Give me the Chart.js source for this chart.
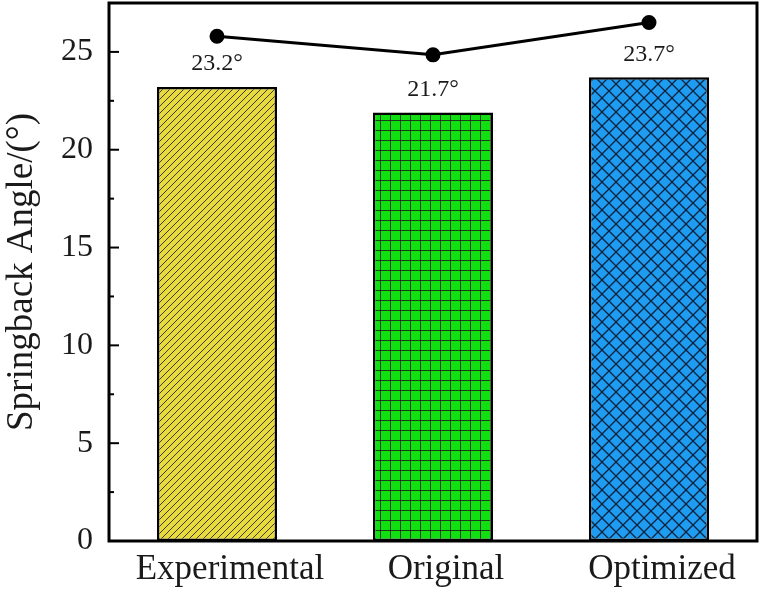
<!DOCTYPE html>
<html lang="en">
<head>
    <meta charset="UTF-8">
    <title>Springback Angle</title>
    <script src="https://cdn.jsdelivr.net/npm/chart.js"></script>
    <style>
        body { margin: 0; background: #fff; }
        .chart-container { width: 767px; height: 595px; }
    </style>
</head>
<body>
    <div class="chart-container">
        <canvas id="springChart"></canvas>
    </div>

    <script>
        // Data
        const categories = ['Experimental', 'Original', 'Optimized'];
        const barValues = [23.2, 21.9, 23.7];
        const barLabels = ['23.2°', '21.7°', '23.7°'];
        const lineValues = [25.8, 24.85, 26.5];
        const yTicks = [0, 5, 10, 15, 20, 25];

        const serif = '"Liberation Serif", "Times New Roman", serif';

        // Hatch patterns: diagonal lines, square grid, diamond crosshatch
        function makePattern(kind, bg) {
            const c = document.createElement('canvas');
            const s = kind === 'diag' ? 7 : (kind === 'grid' ? 10.5 : 14);
            c.width = s; c.height = s;
            const g = c.getContext('2d');
            g.fillStyle = bg;
            g.fillRect(0, 0, s, s);
            g.strokeStyle = kind === 'cross' ? 'rgba(10,20,40,0.9)' : 'rgba(30,30,30,0.85)';
            g.lineWidth = kind === 'cross' ? 1.3 : 1;
            g.beginPath();
            if (kind === 'diag') {
                g.moveTo(-1, s + 1); g.lineTo(s + 1, -1);
                g.moveTo(-1, 1); g.lineTo(1, -1);
                g.moveTo(s - 1, s + 1); g.lineTo(s + 1, s - 1);
            } else if (kind === 'grid') {
                g.moveTo(0.5, 0); g.lineTo(0.5, s);
                g.moveTo(0, 0.5); g.lineTo(s, 0.5);
            } else {
                g.moveTo(0, 0); g.lineTo(s, s);
                g.moveTo(s, 0); g.lineTo(0, s);
            }
            g.stroke();
            return g.createPattern(c, 'repeat');
        }

        const ctx = document.getElementById('springChart').getContext('2d');
        const fills = [
            makePattern('diag', '#e8d93c'),
            makePattern('grid', '#10e010'),
            makePattern('cross', '#1e9cf2')
        ];

        // Frame around the plot plus inward major / minor ticks on the left
        const framePlugin = {
            id: 'frame',
            afterDraw(chart) {
                const { ctx, chartArea: a, scales } = chart;
                ctx.save();
                ctx.strokeStyle = '#000';
                ctx.lineWidth = 2;
                const y = scales.y;
                for (let v = 0; v <= 27.5; v += 2.5) {
                    const py = y.getPixelForValue(v);
                    const len = (v % 5 === 0) ? 10 : 5;
                    ctx.beginPath();
                    ctx.moveTo(a.left, py);
                    ctx.lineTo(a.left + len, py);
                    ctx.stroke();
                }
                ctx.lineWidth = 3;
                ctx.strokeRect(a.left, a.top, a.right - a.left, a.bottom - a.top);
                ctx.restore();
            }
        };

        // Value labels above the bars
        const labelPlugin = {
            id: 'barLabels',
            afterDatasetsDraw(chart) {
                const meta = chart.getDatasetMeta(1);
                const ctx = chart.ctx;
                ctx.save();
                ctx.font = '24px ' + serif;
                ctx.fillStyle = '#1a1a1a';
                ctx.textAlign = 'center';
                ctx.textBaseline = 'middle';
                meta.data.forEach((bar, i) => {
                    ctx.fillText(barLabels[i], bar.x, bar.y - 23);
                });
                ctx.restore();
            }
        };

        const chart = new Chart(ctx, {
            data: {
                labels: categories,
                datasets: [
                    {
                        type: 'line',
                        data: lineValues,
                        borderColor: '#000',
                        backgroundColor: '#000',
                        borderWidth: 3,
                        pointRadius: 6,
                        pointHoverRadius: 6,
                        tension: 0,
                        order: 0
                    },
                    {
                        type: 'bar',
                        data: barValues,
                        backgroundColor: fills,
                        borderColor: '#000',
                        borderWidth: 2.5,
                        borderSkipped: false,
                        categoryPercentage: 1,
                        barPercentage: 0.556,
                        order: 1
                    }
                ]
            },
            options: {
                responsive: true,
                maintainAspectRatio: false,
                animation: false,
                layout: {
                    autoPadding: false,
                    padding: { top: 3, right: 10, left: 0, bottom: 0 }
                },
                plugins: {
                    legend: { display: false },
                    tooltip: { enabled: false }
                },
                scales: {
                    x: {
                        grid: { display: false, drawTicks: false },
                        border: { display: false },
                        ticks: {
                            color: '#1a1a1a',
                            font: { family: serif, size: 35 },
                            padding: 8,
                            labelOffset: 13
                        },
                        afterFit(scale) {
                            scale.height = 54;
                            scale.paddingLeft = 0;
                            scale.paddingRight = 0;
                        }
                    },
                    y: {
                        min: 0,
                        max: 27.5,
                        afterBuildTicks(scale) {
                            scale.ticks = yTicks.map(v => ({ value: v }));
                        },
                        grid: { display: false, drawTicks: false },
                        border: { display: false },
                        ticks: {
                            color: '#1a1a1a',
                            font: { family: serif, size: 32 },
                            padding: 16
                        },
                        title: {
                            display: true,
                            text: 'Springback Angle/(°)',
                            color: '#1a1a1a',
                            font: { family: serif, size: 37 },
                            padding: { top: 0, bottom: 2 }
                        },
                        afterFit(scale) {
                            scale.width = 109;
                            scale.paddingTop = 0;
                            scale.paddingBottom = 0;
                        }
                    }
                }
            },
            plugins: [framePlugin, labelPlugin]
        });
    </script>
</body>
</html>
